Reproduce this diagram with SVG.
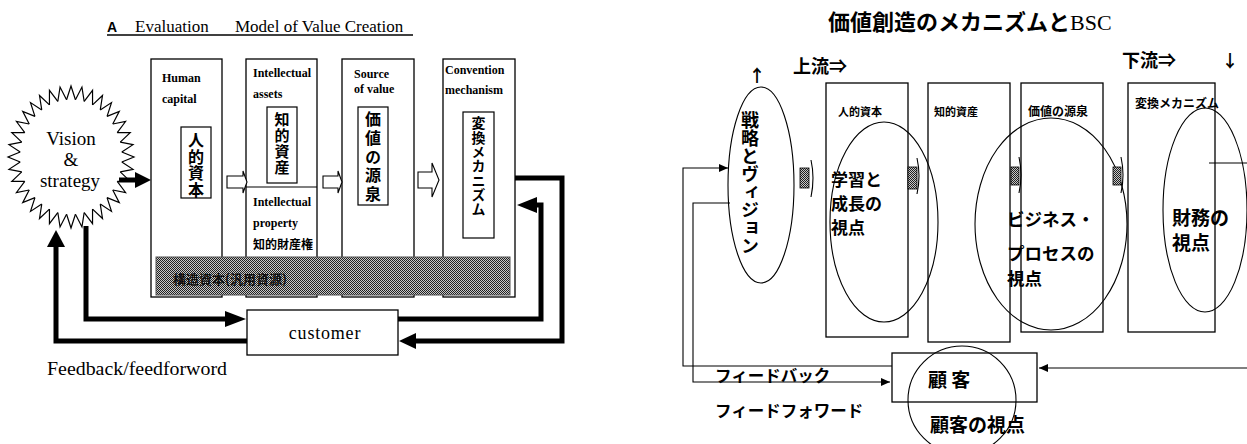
<svg xmlns="http://www.w3.org/2000/svg" width="1247" height="444" viewBox="0 0 1247 444">
<defs>
<style>
.box{fill:#fff;stroke:#000;stroke-width:1.3}
.ibox{fill:#fff;stroke:#000;stroke-width:1.2}
.thin{fill:none;stroke:#000;stroke-width:1.1}
.thick{fill:none;stroke:#000;stroke-width:5}
.head{fill:#000;stroke:none}
.hol{fill:#fff;stroke:#000;stroke-width:1.1}
.lbl{font-family:"Liberation Serif",serif;font-weight:bold;font-size:12px}
.serif{font-family:"Liberation Serif",serif}
.cjk{font-family:"Noto Sans CJK JP",sans-serif;font-weight:bold}
.vt{font-family:"Noto Sans CJK JP",sans-serif;font-weight:bold;writing-mode:vertical-rl}
.ell{fill:none;stroke:#000;stroke-width:1.1}
</style>
<pattern id="hatch" width="2" height="2" patternUnits="userSpaceOnUse"><rect width="2" height="2" fill="#c8c8c8"/><rect width="1" height="1" fill="#202020"/><rect x="1" y="1" width="1" height="1" fill="#202020"/></pattern>
<path id="spike" d="M-4.445,-50.806 L0,-63 L4.445,-50.806" fill="none" stroke="#000" stroke-width="1.2" vector-effect="non-scaling-stroke"/>
<marker id="ah" markerUnits="userSpaceOnUse" markerWidth="9" markerHeight="8" refX="9" refY="4" orient="auto"><path d="M0,0 L9,4 L0,8 Z" fill="#000"/></marker>
</defs>
<rect width="1247" height="444" fill="#fff"/>

<!-- LEFT DIAGRAM -->
<g id="left-title">
<text x="107" y="32" font-family="Liberation Sans,sans-serif" font-weight="bold" font-size="14">A</text>
<text x="135" y="32" class="serif" font-size="17">Evaluation</text>
<text x="235" y="32" class="serif" font-size="17">Model of Value Creation</text>
<line x1="107" y1="35" x2="413" y2="35" stroke="#000" stroke-width="1.3"/>
</g>

<g id="vision-strategy">
<g transform="translate(71,157) scale(1,1.127)">
<use href="#spike" transform="rotate(0)"/><use href="#spike" transform="rotate(10)"/><use href="#spike" transform="rotate(20)"/><use href="#spike" transform="rotate(30)"/><use href="#spike" transform="rotate(40)"/><use href="#spike" transform="rotate(50)"/><use href="#spike" transform="rotate(60)"/><use href="#spike" transform="rotate(70)"/><use href="#spike" transform="rotate(80)"/><use href="#spike" transform="rotate(90)"/><use href="#spike" transform="rotate(100)"/><use href="#spike" transform="rotate(110)"/><use href="#spike" transform="rotate(120)"/><use href="#spike" transform="rotate(130)"/><use href="#spike" transform="rotate(140)"/><use href="#spike" transform="rotate(150)"/><use href="#spike" transform="rotate(160)"/><use href="#spike" transform="rotate(170)"/><use href="#spike" transform="rotate(180)"/><use href="#spike" transform="rotate(190)"/><use href="#spike" transform="rotate(200)"/><use href="#spike" transform="rotate(210)"/><use href="#spike" transform="rotate(220)"/><use href="#spike" transform="rotate(230)"/><use href="#spike" transform="rotate(240)"/><use href="#spike" transform="rotate(250)"/><use href="#spike" transform="rotate(260)"/><use href="#spike" transform="rotate(270)"/><use href="#spike" transform="rotate(280)"/><use href="#spike" transform="rotate(290)"/><use href="#spike" transform="rotate(300)"/><use href="#spike" transform="rotate(310)"/><use href="#spike" transform="rotate(320)"/><use href="#spike" transform="rotate(330)"/><use href="#spike" transform="rotate(340)"/><use href="#spike" transform="rotate(350)"/>
</g>
<text class="serif" font-size="19" text-anchor="middle"><tspan x="71" y="145">Vision</tspan><tspan x="71" y="166">&amp;</tspan><tspan x="70" y="187">strategy</tspan></text>
</g>

<g id="human-capital">
<rect class="box" x="151" y="59" width="71" height="238"/>
<text class="lbl"><tspan x="162" y="82">Human</tspan><tspan x="162" y="103">capital</tspan></text>
<rect class="ibox" x="181" y="127" width="30" height="71"/>
<text class="vt" x="196" y="132" font-size="16" letter-spacing="0.7">人的資本</text>
</g>

<g id="intellectual-assets">
<rect class="box" x="246" y="59" width="71" height="238"/>
<line x1="246" y1="187" x2="317" y2="187" stroke="#000" stroke-width="1.2"/>
<text class="lbl"><tspan x="253" y="77">Intellectual</tspan><tspan x="253" y="98">assets</tspan></text>
<rect class="ibox" x="267" y="107" width="30" height="76"/>
<text class="vt" x="282" y="112" font-size="15" letter-spacing="1">知的資産</text>
<text class="lbl"><tspan x="253" y="206">Intellectual</tspan><tspan x="253" y="227">property</tspan></text>
<text class="cjk" x="253" y="249" font-size="12">知的財産権</text>
</g>

<g id="source-of-value">
<rect class="box" x="342" y="59" width="72" height="238"/>
<text class="lbl"><tspan x="354" y="78">Source</tspan><tspan x="354" y="93">of value</tspan></text>
<rect class="ibox" x="358" y="107" width="30" height="98"/>
<text class="vt" x="373" y="111" font-size="16" letter-spacing="2.8">価値の源泉</text>
</g>

<g id="convention-mechanism">
<rect class="box" x="443" y="59" width="72" height="238"/>
<text class="lbl"><tspan x="445" y="74">Convention</tspan><tspan x="445" y="94">mechanism</tspan></text>
<rect class="ibox" x="463" y="112" width="31" height="126"/>
<text class="vt" x="478.5" y="116" font-size="14" letter-spacing="0.3">変換メカニズム</text>
</g>

<g id="structural-capital">
<rect x="156" y="257" width="354" height="38" fill="url(#hatch)" stroke="#555" stroke-width="1"/>
<text class="cjk" x="173" y="284" font-size="13" fill="#111">構造資本(汎用資源)</text>
</g>

<g id="customer-left">
<rect class="box" x="247" y="310" width="151" height="45"/>
<text class="serif" x="325" y="339" font-size="18" text-anchor="middle" letter-spacing="0.8">customer</text>
</g>

<text id="feedback-label" class="serif" x="47" y="375" font-size="18" textLength="180" lengthAdjust="spacingAndGlyphs">Feedback/feedforword</text>

<g id="left-connectors">
<polygon class="hol" points="227,176 243,176 243,171 247,182 243,193 243,188 227,188"/>
<polygon class="hol" points="323,176 338,176 338,171 342,182 338,193 338,188 323,188"/>
<polygon class="hol" points="418,172 432,172 432,163 439,180 432,197 432,188 418,188"/>
<path class="thick" d="M119,180 H137"/>
<polygon class="head" points="135,172 151,180 135,188"/>
<path class="thick" d="M86,226 V319 H226"/>
<polygon class="head" points="225,311 246,319 225,327"/>
<path class="thick" d="M247,341 H56 V246"/>
<polygon class="head" points="47,247 56,230 65,247"/>
<path class="thick" d="M515,178 H562 V341 H414"/>
<polygon class="head" points="416,333 399,341 416,349"/>
<path class="thick" d="M398,319 H541 V205 H535"/>
<polygon class="head" points="537,197 517,205 537,213"/>
</g>

<!-- RIGHT DIAGRAM -->
<g id="right-title">
<text x="828" y="30" font-size="22"><tspan class="cjk" font-weight="500">価値創造のメカニズムと</tspan><tspan class="serif">BSC</tspan></text>
</g>
<text class="cjk" x="793" y="73" font-size="18">上流⇒</text>
<text class="cjk" x="1122" y="67" font-size="18">下流⇒</text>
<text class="cjk" x="757" y="82" font-size="17" text-anchor="middle">↑</text>
<text class="cjk" x="1230" y="67" font-size="17" text-anchor="middle">↓</text>

<g id="human-capital-r">
<rect class="box" x="826" y="83" width="82" height="254"/>
<text class="cjk" x="838" y="116" font-size="11">人的資本</text>
</g>
<g id="intellectual-assets-r">
<rect class="box" x="928" y="83" width="82" height="259"/>
<text class="cjk" x="934" y="116" font-size="11">知的資産</text>
</g>
<g id="source-of-value-r">
<rect class="box" x="1021" y="83" width="82" height="249"/>
<text class="cjk" x="1028" y="116" font-size="12">価値の源泉</text>
</g>
<g id="conversion-r">
<rect class="box" x="1128" y="83" width="87" height="249"/>
<text class="cjk" x="1135" y="108" font-size="12">変換メカニズム</text>
</g>

<g id="strategy-vision">
<ellipse class="ell" cx="761" cy="185" rx="33" ry="98"/>
<text class="vt" x="750" y="111" font-size="18">戦略とヴィジョン</text>
</g>

<g id="learning-growth">
<ellipse class="ell" cx="884" cy="222" rx="54" ry="100"/>
<text class="cjk" x="831" y="186" font-size="17">学習と</text>
<text class="cjk" x="831" y="210" font-size="17">成長の</text>
<text class="cjk" x="831" y="234" font-size="17">視点</text>
</g>

<g id="business-process">
<ellipse class="ell" cx="1051" cy="224" rx="76" ry="106"/>
<text class="cjk" x="1007" y="226" font-size="17.5">ビジネス・</text>
<text class="cjk" x="1007" y="260" font-size="17.5">プロセスの</text>
<text class="cjk" x="1007" y="285" font-size="17.5">視点</text>
</g>

<g id="financial">
<ellipse class="ell" cx="1205" cy="210" rx="42" ry="102"/>
<text class="cjk" x="1172" y="225" font-size="19">財務の</text>
<text class="cjk" x="1172" y="250" font-size="19">視点</text>
</g>

<g id="customer-r">
<rect class="box" x="892" y="353" width="145" height="49"/>
<text class="cjk" x="928" y="387" font-size="19">顧 客</text>
<ellipse class="ell" cx="962" cy="400" rx="54" ry="54"/>
<text class="cjk" x="930" y="432" font-size="19">顧客の視点</text>
</g>

<g id="right-connectors">
<rect x="800" y="168" width="9" height="20" fill="url(#hatch)" stroke="#000" stroke-width="0.8"/>
<path class="thin" d="M811,160 Q815,178 811,197"/>
<rect x="908" y="167" width="9" height="22" fill="url(#hatch)" stroke="#000" stroke-width="0.8"/>
<path class="thin" d="M917,158 Q921,176 917,194"/>
<rect x="1011" y="167" width="8" height="18" fill="url(#hatch)" stroke="#000" stroke-width="0.8"/>
<path class="thin" d="M1019,157 Q1023,175 1019,193"/>
<rect x="1113" y="167" width="8" height="18" fill="url(#hatch)" stroke="#000" stroke-width="0.8"/>
<path class="thin" d="M1121,157 Q1125,175 1121,193"/>
<path class="thin" d="M892,366 H683 V168 H728" marker-end="url(#ah)"/>
<path class="thin" d="M730,203 H693 V382 H890" marker-end="url(#ah)"/>
<path class="thin" d="M1247,368 H1039" marker-end="url(#ah)"/>
<path class="thin" d="M1209,163 H1247"/>
</g>
<text class="cjk" x="715" y="382" font-size="16.5">フィードバック</text>
<text class="cjk" x="715" y="417" font-size="16.5">フィードフォワード</text>
</svg>
